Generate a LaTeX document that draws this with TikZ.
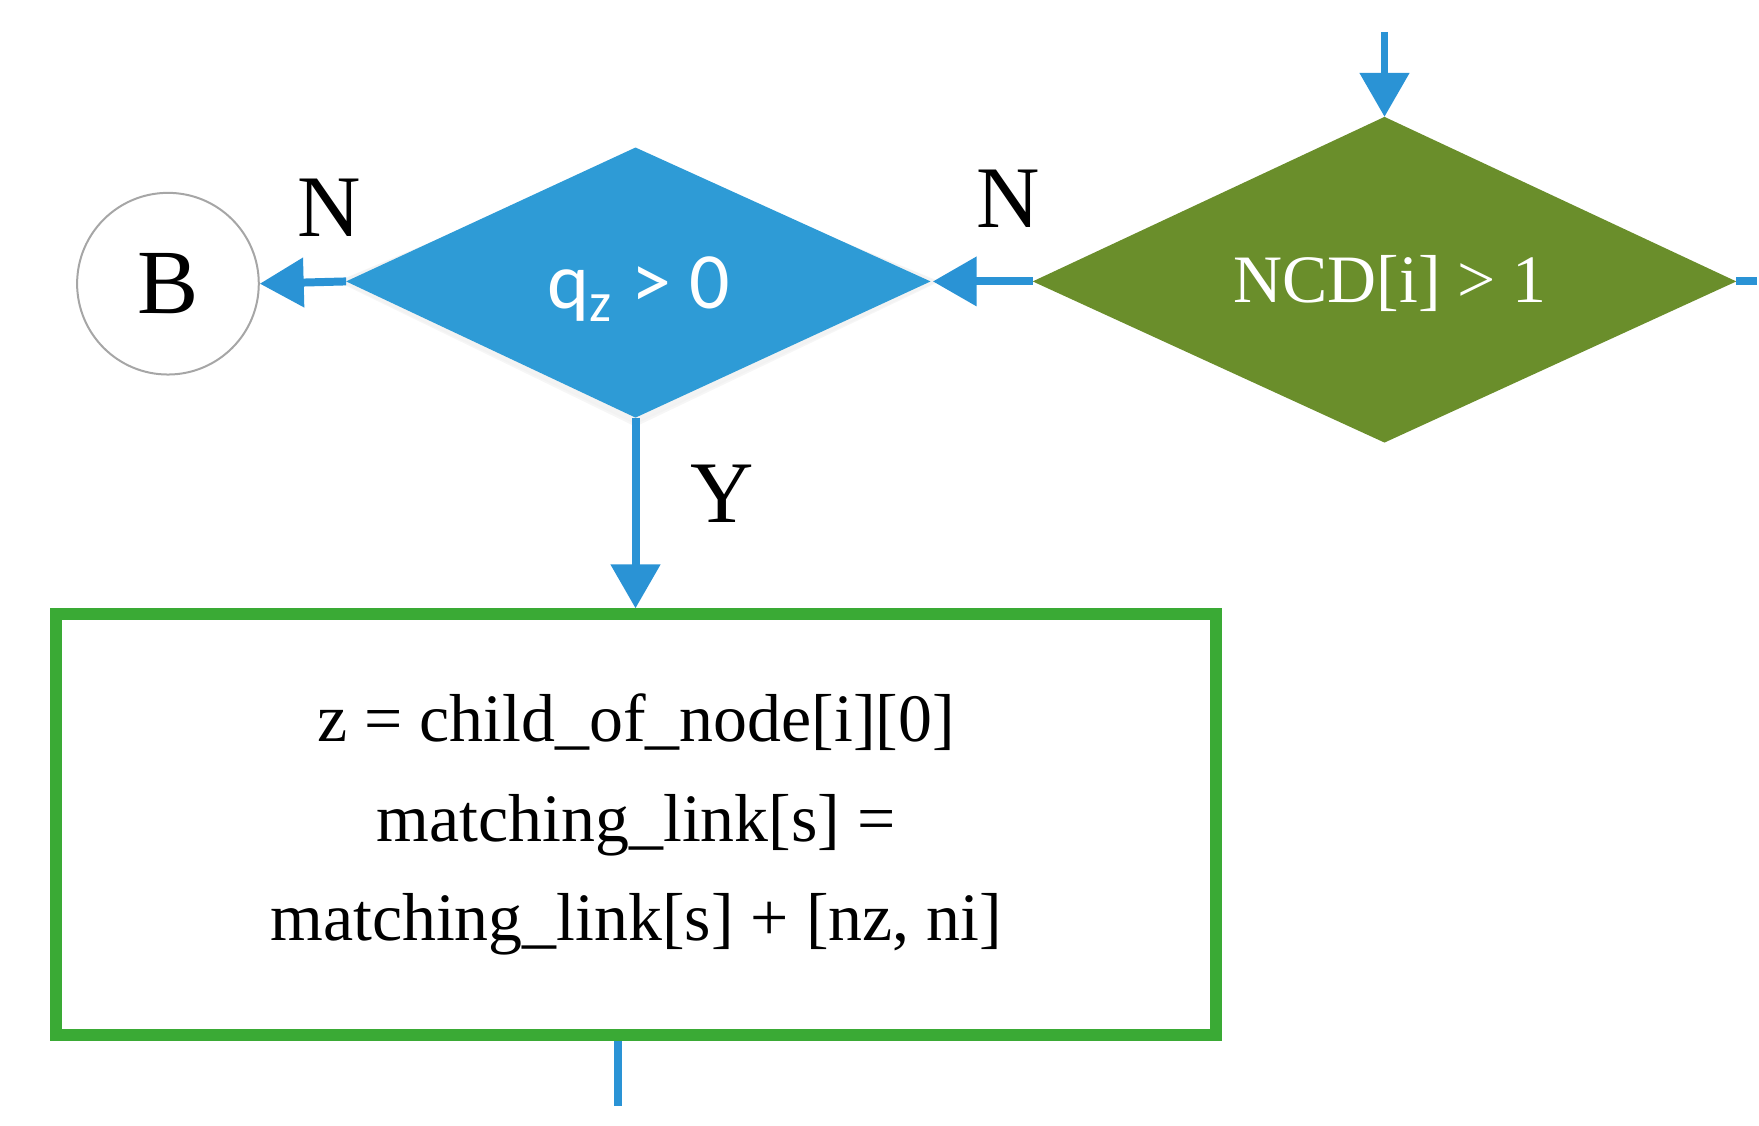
\documentclass[tikz,border=0pt]{standalone}
\usepackage{fontspec}
\setmainfont{Liberation Serif}
\newfontfamily\sansf{Carlito}
\usetikzlibrary{arrows.meta,shapes.geometric}
\definecolor{dblue}{HTML}{2E9BD6}
\definecolor{dgreen}{HTML}{6A8E2B}
\definecolor{bgreen}{HTML}{3AAA35}
\definecolor{ablue}{HTML}{2A93D5}
\begin{document}
\begin{tikzpicture}[x=0.01cm,y=-0.01cm,
  conn/.style={ablue,line width=2pt},
  arr/.style={conn,-{Triangle[width=12pt,length=11pt]}},
  lbl/.style={font=\fontsize{22}{24}\selectfont},
  dia/.style={diamond,inner sep=0pt}]
\useasboundingbox (0,0) rectangle (1550,992);
% green decision
\fill[dgreen] (1220,103) -- (1530,248) -- (1220,390) -- (910,248) -- cycle;
\node[white,font=\fontsize{17}{19}\selectfont] (g) at (1225,250) {NCD[i] > 1};
\coordinate (gt) at (1220,103);
\coordinate (gl) at (910,248);
\coordinate (gr) at (1530,248);
\coordinate (top) at (1220,28);
\coordinate (rr) at (1548,248);
% blue decision with soft shadow
\foreach \s/\o in {10/8,7/6,4/4}{
  \fill[black!\s,opacity=0.35] (560,130+\o) -- (820+\o,248) -- (560,368+\o) -- (305-\o,248) -- cycle;}
\fill[dblue] (560,130) -- (820,248) -- (560,368) -- (305,248) -- cycle;
\node[white,font=\sansf\fontsize{20}{22}\selectfont] (q) at (563,255) {q\textsubscript{z} > 0};
\coordinate (bt) at (560,368);
\coordinate (bl) at (305,248);
\coordinate (br) at (822,248);
% circle
\node[circle,draw=black!35,line width=0.5pt,minimum size=1.6cm,font=\fontsize{23}{25}\selectfont] (B) at (148,250) {B};
% box
\node[draw=bgreen,line width=3pt,minimum width=10.22cm,minimum height=3.7cm,align=center,
  font=\fontsize{17}{25}\selectfont] (box) at (560.5,726.5)
  {z = child\_of\_node[i][0]\\ matching\_link[s] =\\ matching\_link[s] + [nz, ni]};
\coordinate (bot) at (545,975);
% connectors
\draw[arr] (top) -- (gt);
\draw[conn] (gr) -- (rr);
\draw[arr] (gl) -- (br);
\draw[arr] (bl) -- (B.east);
\draw[arr] (bt) -- (box.north -| bt);
\draw[conn] (box.south -| bot) -- (bot);
% labels
\node[lbl] (n1) at (888,175) {N};
\node[lbl] (n2) at (290,183) {N};
\node[lbl] (y1) at (636,435) {Y};
\end{tikzpicture}
\end{document}
